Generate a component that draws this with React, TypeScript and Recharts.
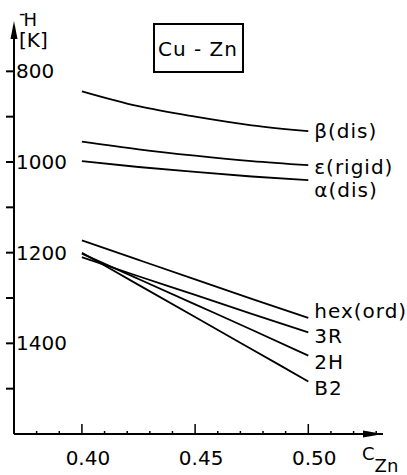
import React from "react";
import { LineChart, Line, XAxis, YAxis, LabelList } from "recharts";

const cZn = [0.4, 0.425, 0.45, 0.475, 0.5];
const betaDis = [844, 877, 900, 919, 932];
const epsRigid = [955, 972, 986, 998, 1007];
const alphaDis = [998, 1011, 1022, 1032, 1040];
const hexOrd = [1173, 1216, 1259, 1302, 1344];
const r3 = [1210, 1252, 1293, 1335, 1376];
const h2 = [1202, 1258, 1314, 1370, 1427];
const b2 = [1200, 1271, 1342, 1413, 1484];

const xDomain = [0.37, 0.533];
const yDomain = [700, 1600];
const yTicks = [800, 900, 1000, 1100, 1200, 1300, 1400, 1500];
const yLabeled = [800, 1000, 1200, 1400];
const xTicks = [0.38, 0.39, 0.4, 0.41, 0.42, 0.43, 0.44, 0.45, 0.46, 0.47, 0.48, 0.49, 0.5, 0.51, 0.52, 0.53];
const xLabeled = ["0.40", "0.45", "0.50"];

const series = [
  { key: "beta", name: "β(dis)", values: betaDis, dy: 0 },
  { key: "eps", name: "ε(rigid)", values: epsRigid, dy: 2 },
  { key: "alpha", name: "α(dis)", values: alphaDis, dy: 10 },
  { key: "hex", name: "hex(ord)", values: hexOrd, dy: -7 },
  { key: "r3", name: "3R", values: r3, dy: 4 },
  { key: "h2", name: "2H", values: h2, dy: 6 },
  { key: "b2", name: "B2", values: b2, dy: 7 },
];

const data = cZn.map((c, i) => {
  const row: any = { c };
  series.forEach((s) => (row[s.key] = s.values[i]));
  return row;
});

const W = 407;
const H = 475;
const MARGIN = { top: 26, left: 13, right: 24, bottom: 40 };
const Y_AXIS_W = 1;
const X_AXIS_H = 1;
const plotLeft = MARGIN.left + Y_AXIS_W;
const plotRight = W - MARGIN.right;
const plotTop = MARGIN.top;
const plotBottom = H - MARGIN.bottom - X_AXIS_H;

const FONT = "DejaVu Sans";

const YTick = (props: any) => {
  const { x, y, payload } = props;
  const v = payload.value;
  return (
    <g>
      <line x1={x - 8} y1={y} x2={x} y2={y} stroke="#000" strokeWidth={2} />
      {yLabeled.includes(v) && (
        <text x={x + 2} y={y} dominantBaseline="central" fontFamily={FONT} fontSize={20} fill="#000">
          {v}
        </text>
      )}
    </g>
  );
};

const XTick = (props: any) => {
  const { x, y, payload } = props;
  const label = payload.value.toFixed(2);
  const major = xLabeled.includes(label);
  return (
    <g>
      <line x1={x} y1={y} x2={x} y2={y - (major ? 10 : 3)} stroke="#000" strokeWidth={1.5} />
      {major && (
        <text x={x + 6} y={y + 31} textAnchor="middle" fontFamily={FONT} fontSize={20} fill="#000">
          {label}
        </text>
      )}
    </g>
  );
};

const endLabel = (name: string, dy: number) => (props: any) => {
  const { x, y, index } = props;
  if (index !== cZn.length - 1) return <g />;
  return (
    <text x={x + 6} y={y + dy} dominantBaseline="central" fontFamily={FONT} fontSize={20} letterSpacing={1} fill="#000">
      {name}
    </text>
  );
};

export default function App() {
  return (
    <div style={{ position: "absolute", left: 0, top: 0, width: W, height: H, background: "#fff" }}>
      <LineChart width={W} height={H} data={data} margin={MARGIN}>
        <XAxis
          dataKey="c"
          type="number"
          domain={xDomain}
          ticks={xTicks}
          height={X_AXIS_H}
          tickSize={0}
          tickMargin={0}
          tickLine={false}
          axisLine={{ stroke: "#000", strokeWidth: 2 }}
          tick={<XTick />}
          interval={0}
        />
        <YAxis
          type="number"
          domain={yDomain}
          reversed
          ticks={yTicks}
          width={Y_AXIS_W}
          tickSize={0}
          tickMargin={0}
          tickLine={false}
          axisLine={{ stroke: "#000", strokeWidth: 2 }}
          tick={<YTick />}
          interval={0}
        />
        {series.map((s) => (
          <Line
            key={s.key}
            dataKey={s.key}
            type="monotone"
            stroke="#000"
            strokeWidth={1.8}
            dot={false}
            isAnimationActive={false}
          >
            <LabelList dataKey={s.key} content={endLabel(s.name, s.dy)} />
          </Line>
        ))}
      </LineChart>
      <svg width={W} height={H} style={{ position: "absolute", left: 0, top: 0, pointerEvents: "none" }}>
        {/* axis arrow heads */}
        <polygon
          points={`${plotLeft},${plotTop - 5} ${plotLeft - 3.5},${plotTop + 13} ${plotLeft + 3.5},${plotTop + 13}`}
          fill="#000"
        />
        <polygon
          points={`${plotRight},${plotBottom} ${plotRight - 20},${plotBottom - 3.5} ${plotRight - 20},${plotBottom + 3.5}`}
          fill="#000"
        />
        <text x={19} y={26} fontFamily={FONT} fontSize={18} fill="#000">
          <tspan dy={-7}>-</tspan>
          <tspan dx={-2} dy={7}>H</tspan>
        </text>
        <text x={19} y={47} fontFamily={FONT} fontSize={20} fill="#000">[K]</text>
        <rect x={154} y={24} width={89} height={48} fill="none" stroke="#000" strokeWidth={2} />
        <text x={198} y={49} textAnchor="middle" dominantBaseline="central" fontFamily={FONT} fontSize={20} letterSpacing={1} fill="#000">
          Cu - Zn
        </text>
        <text x={362} y={460} fontFamily={FONT} fontSize={18} fill="#000">
          C<tspan dy={12} fontSize={18}>Zn</tspan>
        </text>
      </svg>
    </div>
  );
}
